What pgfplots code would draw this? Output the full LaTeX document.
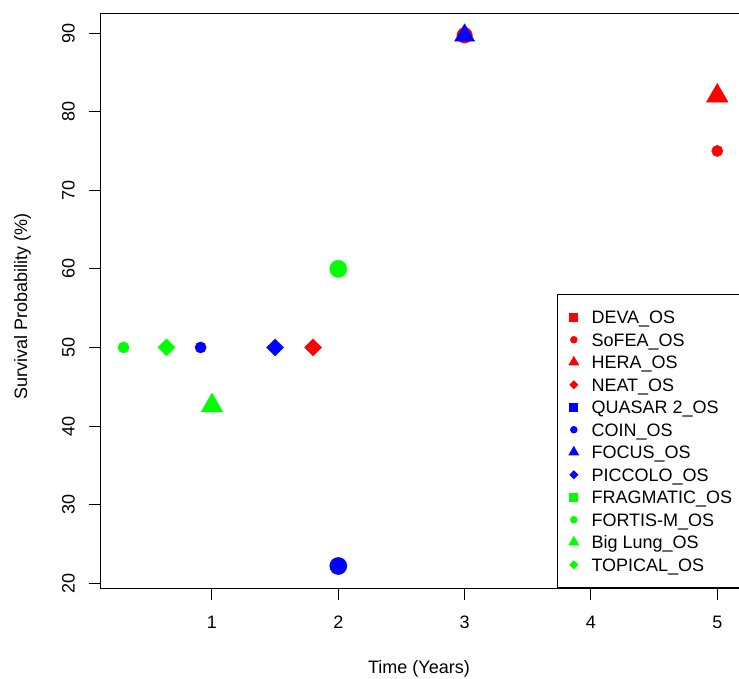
\documentclass[border=0pt]{standalone}
\usepackage{pgfplots}
\pgfplotsset{compat=1.18}
\usepackage{fontspec}
\setmainfont{Liberation Sans}
\newcommand{\fs}{\fontsize{18}{21}\selectfont}
\begin{document}
\begin{tikzpicture}
\path[use as bounding box] (-100.7pt,-90pt) rectangle (638.3pt,588pt);
\begin{axis}[
  at={(0pt,0pt)}, anchor=south west,
  scale only axis, width=640.3pt, height=574pt,
  xmin=0.119, xmax=5.188, ymin=19.4, ymax=92.42,
  xtick={1,2,3,4,5}, ytick={20,30,...,90},
  xtick pos=bottom, ytick pos=left, tick align=outside,
  major tick length=12pt,
  every tick/.style={black, line width=1pt},
  axis line style={line width=1pt},
  /pgf/number format/assume math mode=true,
  ticklabel style={font=\fs, inner sep=0pt},
  xticklabel style={anchor=north},
  yticklabel style={rotate=90, anchor=south},
  xticklabel shift=16pt, yticklabel shift=13.7pt,
  xlabel={Time (Years)}, ylabel={Survival Probability (\%)},
  label style={font=\fs, inner sep=0pt},
  xlabel style={at={(axis description cs:0.4971,-0.1498)}, anchor=base},
  ylabel style={at={(axis description cs:-0.1151,0.491)}, anchor=base},
  legend style={at={(rel axis cs:0.7122,0)}, anchor=south west, draw=black, line width=1pt, fill=white, font=\fs, inner xsep=7.6pt, inner ysep=11.5pt, row sep=0pt, column sep=8.7pt, nodes={inner sep=0pt, text height=17.7pt, text depth=4.8pt}},
  legend cell align=left,
  legend image code/.code={\pgfpathrectangle{\pgfpoint{0pt}{-4pt}}{\pgfpoint{18pt}{8pt}}\pgfusepath{}\draw[#1] plot coordinates {(9pt,0pt)};},
]
% red series
\addplot[only marks, mark=*, red, mark size=7.8pt, forget plot] coordinates {(3,89.7)};
\addplot[only marks, mark=*, red, mark size=5.6pt, forget plot] coordinates {(5,75)};
\addplot[only marks, mark=triangle*, red, mark size=12.5pt, forget plot] coordinates {(5,82)};
\addplot[only marks, mark=square*, mark options={rotate=45}, red, mark size=6pt, forget plot] coordinates {(1.8,50)};
% blue series
\addplot[only marks, mark=*, blue, mark size=5.6pt, forget plot] coordinates {(0.91,50)};
\addplot[only marks, mark=*, blue, mark size=8.6pt, forget plot] coordinates {(2,22.2)};
\addplot[only marks, mark=triangle*, blue, mark size=11.6pt, forget plot] coordinates {(3,89.7)};
\addplot[only marks, mark=square*, mark options={rotate=45}, blue, mark size=6pt, forget plot] coordinates {(1.5,50)};
% green series
\addplot[only marks, mark=*, green, mark size=5.6pt, forget plot] coordinates {(0.3,50)};
\addplot[only marks, mark=*, green, mark size=8.6pt, forget plot] coordinates {(2,60)};
\addplot[only marks, mark=triangle*, green, mark size=12.5pt, forget plot] coordinates {(1,42.6)};
\addplot[only marks, mark=square*, mark options={rotate=45}, green, mark size=6pt, forget plot] coordinates {(0.64,50)};
% legend
\addlegendimage{mark=square*, red, mark size=4pt}
\addlegendentry{DEVA\_OS}
\addlegendimage{mark=*, red, mark size=3.2pt}
\addlegendentry{SoFEA\_OS}
\addlegendimage{mark=triangle*, red, mark size=5.4pt}
\addlegendentry{HERA\_OS}
\addlegendimage{mark=square*, mark options={rotate=45}, red, mark size=2.7pt}
\addlegendentry{NEAT\_OS}
\addlegendimage{mark=square*, blue, mark size=4pt}
\addlegendentry{QUASAR 2\_OS}
\addlegendimage{mark=*, blue, mark size=3.2pt}
\addlegendentry{COIN\_OS}
\addlegendimage{mark=triangle*, blue, mark size=5.4pt}
\addlegendentry{FOCUS\_OS}
\addlegendimage{mark=square*, mark options={rotate=45}, blue, mark size=2.7pt}
\addlegendentry{PICCOLO\_OS}
\addlegendimage{mark=square*, green, mark size=4pt}
\addlegendentry{FRAGMATIC\_OS}
\addlegendimage{mark=*, green, mark size=3.2pt}
\addlegendentry{FORTIS-M\_OS}
\addlegendimage{mark=triangle*, green, mark size=5.4pt}
\addlegendentry{Big Lung\_OS}
\addlegendimage{mark=square*, mark options={rotate=45}, green, mark size=2.7pt}
\addlegendentry{TOPICAL\_OS}
\end{axis}
\end{tikzpicture}
\end{document}
